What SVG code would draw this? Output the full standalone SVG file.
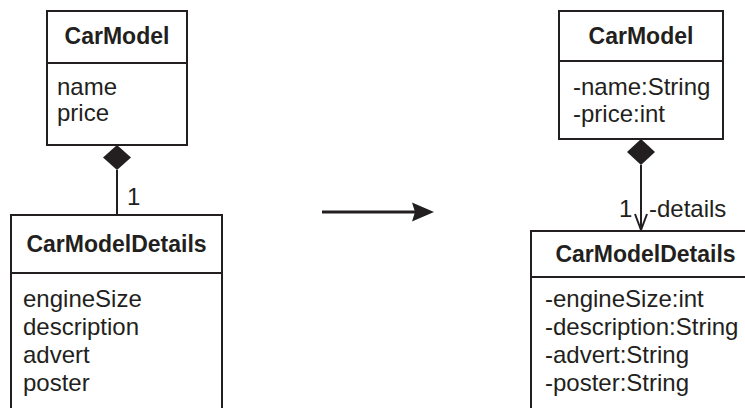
<svg xmlns="http://www.w3.org/2000/svg" width="745" height="408" viewBox="0 0 745 408">
<style>
.box{fill:#fff;stroke:#231f20;stroke-width:2}
.ln{stroke:#231f20;stroke-width:2;fill:none}
.t{font-family:"Liberation Sans",Arial,sans-serif;font-size:24px;fill:#231f20}
.b{font-family:"Liberation Sans",Arial,sans-serif;font-size:23px;font-weight:bold;fill:#231f20;text-anchor:middle}
</style>
<rect width="745" height="408" fill="#fff"/>
<g id="connectors">
<line class="ln" x1="117" y1="170" x2="117" y2="215"/>
<polygon points="117,145 131,157.5 117,170 103,157.5" fill="#231f20"/>
<text class="t" x="127" y="205">1</text>
<line class="ln" x1="641" y1="165" x2="641" y2="230"/>
<polygon points="641,139 655,152 641,165 627,152" fill="#231f20"/>
<polyline class="ln" points="635,214 641,230 647,214"/>
<text class="t" x="619" y="217">1</text>
<text class="t" x="649" y="217">-details</text>
<line stroke="#231f20" stroke-width="3" x1="322" y1="212" x2="416" y2="212"/>
<polygon points="412,202.5 434,212 412,221.5 415,212" fill="#231f20"/>
</g>
<g id="carmodel-left">
<rect class="box" x="47" y="11" width="140" height="134"/>
<line class="ln" x1="47" y1="63" x2="187" y2="63"/>
<text class="b" x="117" y="44">CarModel</text>
<text class="t" x="57" y="95">name</text>
<text class="t" x="57" y="121">price</text>
</g>
<g id="details-left">
<rect class="box" x="11" y="215" width="211" height="200"/>
<line class="ln" x1="11" y1="273" x2="222" y2="273"/>
<text class="b" x="116.5" y="252">CarModelDetails</text>
<text class="t" x="23" y="307">engineSize</text>
<text class="t" x="23" y="335">description</text>
<text class="t" x="23" y="363">advert</text>
<text class="t" x="23" y="391">poster</text>
</g>
<g id="carmodel-right">
<rect class="box" x="559" y="11" width="164" height="128"/>
<line class="ln" x1="559" y1="61" x2="723" y2="61"/>
<text class="b" x="641" y="44">CarModel</text>
<text class="t" x="573" y="95">-name:String</text>
<text class="t" x="573" y="122">-price:int</text>
</g>
<g id="details-right">
<rect class="box" x="531" y="231" width="230" height="200"/>
<line class="ln" x1="531" y1="277" x2="761" y2="277"/>
<text class="b" x="645.5" y="262">CarModelDetails</text>
<text class="t" x="545" y="307">-engineSize:int</text>
<text class="t" x="545" y="335">-description:String</text>
<text class="t" x="545" y="363">-advert:String</text>
<text class="t" x="545" y="391">-poster:String</text>
</g>
</svg>
